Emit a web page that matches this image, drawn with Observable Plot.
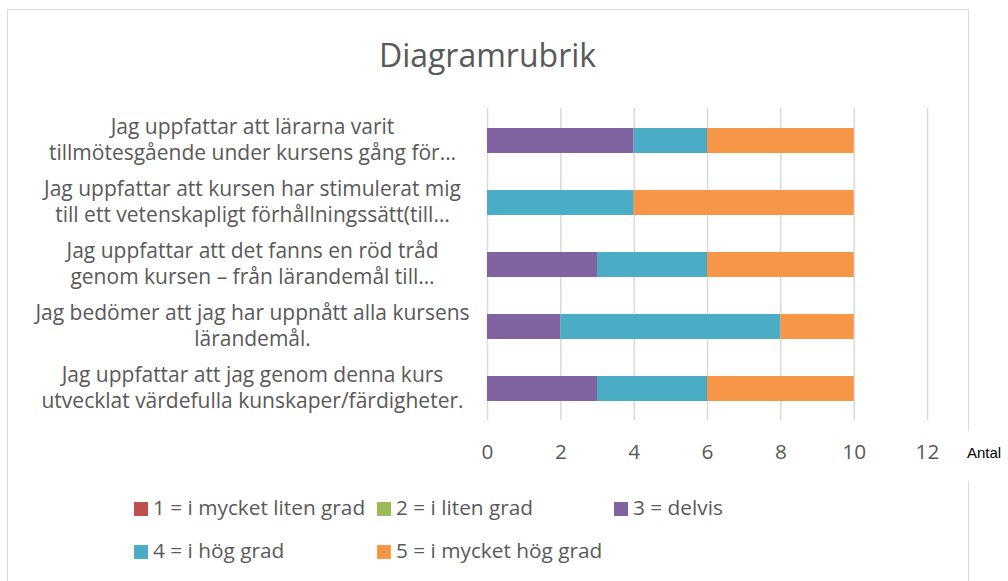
<!DOCTYPE html>
<html>
<head>
<meta charset="utf-8">
<script src="https://cdn.jsdelivr.net/npm/d3@7"></script>
<script src="https://cdn.jsdelivr.net/npm/@observablehq/plot@0.6"></script>
<style>
  html, body { margin: 0; padding: 0; background: #fff; }
  body { width: 1008px; height: 581px; overflow: hidden; position: relative; font-family: "Open Sans", sans-serif; }
  #frame { position: absolute; left: 7px; top: 9px; width: 962px; height: 620px; border: 1.5px solid #d9d9d9; box-sizing: border-box; }
  #title { position: absolute; left: 0; width: 975px; top: 33px; text-align: center; font-size: 32px; color: #595959; line-height: 44px; }
  #chart { position: absolute; left: 0; top: 0; }
  #antal { position: absolute; left: 960px; top: 431px; width: 48px; height: 50px; background: #fff; font-family: "Liberation Sans", Arial, sans-serif; font-size: 15px; color: #000; line-height: 44px; padding-left: 7px; box-sizing: border-box; }
  .leg { position: absolute; font-size: 20.8px; color: #595959; white-space: nowrap; line-height: 28px; }
  .leg span.sw { display: inline-block; width: 14px; height: 14px; margin-right: 5px; vertical-align: -1px; }
</style>
</head>
<body>
<div id="frame"></div>
<div id="title">Diagramrubrik</div>
<div id="chart"></div>
<div id="antal">Antal</div>
<div id="legend"></div>
<script>
// ---- data ----
const categories = [
  "Jag uppfattar att lärarna varit\ntillmötesgående under kursens gång för…",
  "Jag uppfattar att kursen har stimulerat mig\ntill ett vetenskapligt förhållningssätt(till…",
  "Jag uppfattar att det fanns en röd tråd\ngenom kursen – från lärandemål till…",
  "Jag bedömer att jag har uppnått alla kursens\nlärandemål.",
  "Jag uppfattar att jag genom denna kurs\nutvecklat värdefulla kunskaper/färdigheter."
];
const seriesNames = ["1 = i mycket liten grad", "2 = i liten grad", "3 = delvis", "4 = i hög grad", "5 = i mycket hög grad"];
const seriesColors = ["#C0504D", "#9BBB59", "#8064A2", "#4BACC6", "#F79646"];
const s1 = [0, 0, 0, 0, 0];
const s2 = [0, 0, 0, 0, 0];
const s3 = [4, 0, 3, 2, 3];
const s4 = [2, 4, 3, 6, 3];
const s5 = [4, 6, 4, 2, 4];
const xTicks = [0, 2, 4, 6, 8, 10, 12];

const seriesValues = [s1, s2, s3, s4, s5];
const rows = [];
seriesNames.forEach((s, si) => categories.forEach((c, ci) => rows.push({cat: c, series: s, value: seriesValues[si][ci]})));

const plot = Plot.plot({
  width: 1008,
  height: 581,
  marginLeft: 487,
  marginRight: 81,
  marginTop: 108,
  marginBottom: 161,
  style: {fontFamily: "'Open Sans', sans-serif", color: "#595959", background: "transparent"},
  x: {domain: [0, 12], ticks: xTicks},
  y: {domain: categories, paddingInner: 0.6, paddingOuter: 0.3},
  color: {domain: seriesNames, range: seriesColors},
  marks: [
    Plot.gridX(xTicks, {stroke: "#d9d9d9", strokeOpacity: 1, strokeWidth: 1.5}),
    Plot.barX(rows, {x: "value", y: "cat", fill: "series", order: seriesNames}),
    Plot.axisX({ticks: xTicks, tickSize: 0, tickPadding: 24, fontSize: 20.8, fill: "#595959", label: null}),
    Plot.axisY({tickSize: 0, tickPadding: 235, textAnchor: "middle", fontSize: 21, fill: "#595959", lineHeight: 1.24, dy: -2, label: null})
  ]
});
document.getElementById("chart").appendChild(plot);

// legend
const legendPos = [[134, 493], [377, 493], [614, 493], [134, 536], [377, 536]];
const legend = document.getElementById("legend");
seriesNames.forEach((s, i) => {
  const d = document.createElement("div");
  d.className = "leg";
  d.style.left = legendPos[i][0] + "px";
  d.style.top = legendPos[i][1] + "px";
  d.innerHTML = `<span class="sw" style="background:${seriesColors[i]}"></span>${s}`;
  legend.appendChild(d);
});
</script>
</body>
</html>
